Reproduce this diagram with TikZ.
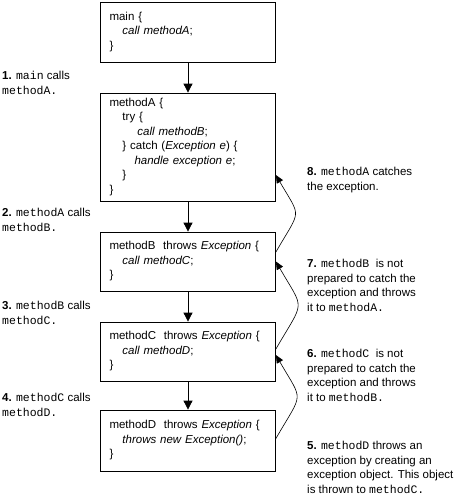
\documentclass[tikz,border=0pt]{standalone}
\usepackage{fontspec}
\setmainfont{Liberation Sans}
\setmonofont{Liberation Mono}
\usetikzlibrary{arrows.meta}

\tikzset{
  codebox/.style={draw, line width=0.8pt, minimum width=175pt, text width=157pt,
    inner xsep=9pt, align=left, font=\fontsize{11.5}{14.5}\selectfont},
  note/.style={anchor=north west, inner sep=0pt, align=left,
    font=\fontsize{11.5}{14.5}\selectfont},
  call/.style={-{Triangle[length=9pt,width=9pt]}, line width=0.8pt},
  throw/.style={-{Triangle[length=8pt,width=7pt]}, line width=0.6pt, looseness=1.7},
}
\newcommand{\ind}[1]{\hspace*{#1pt}}

\begin{document}
\begin{tikzpicture}[x=1pt,y=-1pt]
    \useasboundingbox (0,0) rectangle (460,496);
    % the call chain
    \node[codebox, minimum height=60pt] (main) at (188,32)
        {main \{\\\ind{13}\textit{call methodA};\\\}};
    \node[codebox, minimum height=108pt] (mA) at (188,147)
        {methodA \{\\\ind{13}try \{\\\ind{28}\textit{call methodB};\\
         \ind{13}\} catch (\textit{Exception e}) \{\\\ind{25}\textit{handle exception e};\\
         \ind{13}\}\\\}};
    \node[codebox, minimum height=59pt] (mB) at (188,261.5)
        {methodB~ throws \textit{Exception} \{\\\ind{13}\textit{call methodC};\\\}};
    \node[codebox, minimum height=59pt] (mC) at (188,351.5)
        {methodC~ throws \textit{Exception} \{\\\ind{13}\textit{call methodD};\\\}};
    \node[codebox, minimum height=61pt] (mD) at (188,440.5)
        {methodD~ throws \textit{Exception} \{\\\ind{13}\textit{throws new Exception()};\\\}};
    \draw[call] (main) -- (mA);
    \draw[call] (mA) -- (mB);
    \draw[call] (mB) -- (mC);
    \draw[call] (mC) -- (mD);
    % the exception going back up
    \draw[throw] ([yshift=2pt]mD.east) to[out=60,in=-60] ([yshift=-3.5pt]mC.east);
    \draw[throw] ([yshift=2.5pt]mC.east) to[out=60,in=-60] (mB.east);
    \draw[throw] ([yshift=9.5pt]mB.east) to[out=60,in=-60] ([yshift=-28pt]mA.east);
    % steps
    \node[note] (s1) at (2,71) {\textbf{1.} \texttt{main} calls\\\texttt{methodA.}};
    \node[note] (s2) at (2,208) {\textbf{2.} \texttt{methodA} calls\\\texttt{methodB.}};
    \node[note] (s3) at (2,301) {\textbf{3.} \texttt{methodB} calls\\\texttt{methodC.}};
    \node[note] (s4) at (2,393) {\textbf{4.} \texttt{methodC} calls\\\texttt{methodD.}};
    \node[note] (s5) at (307,441) {\textbf{5.} \texttt{methodD} throws an\\exception by creating an\\
        exception object. This object\\is thrown to \texttt{methodC.}};
    \node[note] (s6) at (307,349) {\textbf{6.} \texttt{methodC}~ is not\\prepared to catch the\\
        exception and throws\\it to \texttt{methodB.}};
    \node[note] (s7) at (307,259) {\textbf{7.} \texttt{methodB}~ is not\\prepared to catch the\\
        exception and throws\\it to \texttt{methodA.}};
    \node[note] (s8) at (307,167) {\textbf{8.} \texttt{methodA} catches\\the exception.};
\end{tikzpicture}
\end{document}
